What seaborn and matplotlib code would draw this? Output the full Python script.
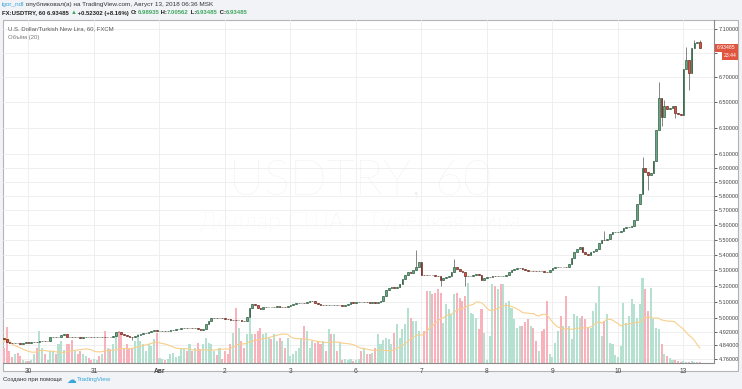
import numpy as np
import pandas as pd
import matplotlib
matplotlib.use("Agg")
import matplotlib.pyplot as plt
import seaborn as sns
from matplotlib.patches import Rectangle
from matplotlib.lines import Line2D

# USDTRY, 60 min bars (FXCM), Jul 27 14:00 .. Aug 13 06:00
first_open = 4.890
closes = [
    # Jul 27 (tail) + Jul 30
    4.882, 4.878, 4.860, 4.853, 4.850, 4.855, 4.852, 4.848, 4.852, 4.856,
    4.855, 4.858, 4.860, 4.857, 4.862, 4.865, 4.863, 4.866, 4.885, 4.888,
    4.886, 4.890, 4.900, 4.905, 4.890, 4.888, 4.886, 4.889, 4.887, 4.884,
    4.886, 4.889, 4.887, 4.885,
    # Jul 31
    4.886, 4.888, 4.887, 4.889, 4.888, 4.890, 4.889, 4.891, 4.920, 4.915,
    4.908, 4.902, 4.896, 4.890, 4.885, 4.895, 4.900, 4.905, 4.910, 4.912,
    4.918, 4.925, 4.930, 4.922,
    # Aug 1
    4.924, 4.926, 4.922, 4.925, 4.928, 4.930, 4.934, 4.938, 4.940, 4.942,
    4.941, 4.943, 4.940, 4.942, 4.938, 4.932, 4.935, 4.965, 4.985, 5.000,
    5.003, 5.002, 5.004, 5.001,
    # Aug 2
    4.998, 4.994, 4.990, 4.992, 4.988, 4.990, 4.986, 4.982, 5.010, 5.060,
    5.085, 5.078, 5.062, 5.058, 5.066, 5.068, 5.070, 5.066, 5.069, 5.072,
    5.068, 5.070, 5.066, 5.072,
    # Aug 3
    5.078, 5.085, 5.092, 5.094, 5.096, 5.095, 5.100, 5.105, 5.108, 5.095,
    5.085, 5.082, 5.084, 5.080, 5.083, 5.078, 5.081, 5.079, 5.082, 5.076,
    5.080, 5.090, 5.098, 5.096,
    # Aug 6
    5.100, 5.102, 5.098, 5.100, 5.097, 5.095, 5.099, 5.096, 5.100, 5.105,
    5.135, 5.175, 5.185, 5.192, 5.184, 5.190, 5.212, 5.245, 5.270, 5.290,
    5.285, 5.300, 5.318, 5.350,
    # Aug 7
    5.272, 5.270, 5.268, 5.272, 5.270, 5.266, 5.262, 5.240, 5.250, 5.255,
    5.262, 5.290, 5.318, 5.305, 5.295, 5.290, 5.260, 5.262, 5.265, 5.270,
    5.278, 5.272, 5.240, 5.250,
    # Aug 8
    5.255, 5.258, 5.262, 5.260, 5.264, 5.262, 5.266, 5.270, 5.290, 5.302,
    5.306, 5.312, 5.315, 5.310, 5.300, 5.296, 5.298, 5.295, 5.292, 5.296,
    5.294, 5.290, 5.288, 5.300,
    # Aug 9
    5.315, 5.318, 5.320, 5.318, 5.322, 5.320, 5.340, 5.380, 5.415, 5.440,
    5.452, 5.418, 5.405, 5.400, 5.415, 5.425, 5.438, 5.475, 5.500, 5.498,
    5.502, 5.540, 5.548, 5.550,
    # Aug 10
    5.552, 5.555, 5.580, 5.585, 5.588, 5.590, 5.630, 5.740, 5.810, 6.000,
    5.970, 5.950, 5.962, 6.050, 6.285, 6.530, 6.385, 6.468, 6.445, 6.452,
    6.468, 6.412, 6.405, 6.400,
    # Aug 13
    6.766, 6.840, 6.733, 6.935, 6.980, 6.989, 6.935,
]
# bars whose wicks stick out clearly
wick_high = {152: 5.43, 166: 5.37, 221: 5.56, 235: 6.08, 241: 6.66, 243: 6.515,
             251: 6.95, 254: 7.006, 256: 7.006}
wick_low = {48: 4.872, 161: 5.20, 170: 5.20, 237: 5.84, 242: 6.31, 247: 6.377,
            252: 6.59}

volumes = [
    26, 15, 36, 12, 6, 9, 10, 7, 3, 2, 2, 3, 9, 15, 32, 15, 9, 3, 12, 12,
    9, 19, 22, 13, 19, 19, 23, 12, 9, 12, 9, 7, 5, 3, 4, 3, 7, 9, 32, 15,
    14, 19, 30, 32, 29, 15, 19, 14, 15, 22, 29, 22, 19, 12, 19, 17, 24, 30, 5, 4,
    3, 4, 9, 10, 6, 7, 15, 15, 12, 19, 12, 15, 20, 14, 19, 25, 20, 19, 12, 8,
    15, 4, 12, 9, 19, 30, 55, 35, 22, 15, 29, 45, 29, 29, 32, 35, 29, 30, 25, 24,
    29, 22, 25, 22, 15, 25, 7, 9, 12, 15, 25, 37, 32, 15, 22, 20, 22, 19, 22, 12,
    34, 29, 29, 12, 20, 3, 4, 3, 4, 2, 3, 4, 12, 14, 9, 9, 10, 15, 29, 19,
    23, 25, 24, 19, 30, 39, 25, 34, 39, 55, 45, 42, 42, 32, 1, 32, 72, 72, 69, 70,
    74, 70, 40, 59, 54, 49, 69, 70, 65, 62, 67, 80, 50, 49, 45, 34, 54, 30, 3, 27,
    79, 77, 74, 79, 79, 60, 62, 55, 44, 35, 37, 37, 41, 44, 37, 35, 22, 12, 32, 34,
    62, 9, 6, 20, 32, 47, 37, 67, 37, 24, 49, 47, 45, 47, 44, 35, 35, 52, 60, 77,
    27, 42, 49, 20, 19, 8, 6, 17, 60, 40, 47, 64, 59, 45, 59, 85, 74, 52, 75, 44,
    35, 34, 19, 9, 7, 5, 3, 3, 2, 1, 2, 1, 1, 2, 1, 1, 1,
]

price_ticks = [4.76, 4.84, 4.92, 5.0, 5.1, 5.2, 5.3, 5.4, 5.5, 5.6, 5.7, 5.8,
               5.9, 6.0, 6.1, 6.3, 6.5, 6.7, 6.9, 7.1]
date_idx = [10, 34, 58, 82, 106, 130, 154, 178, 202, 226, 250]
date_labels = ["30", "31", "Авг", "2", "3", "6", "7", "8", "9", "10", "13"]

W, H = 742, 389
sns.set_style("white")
plt.rcParams["font.family"] = ["Liberation Sans", "DejaVu Sans"]

df = pd.DataFrame({"idx": np.arange(len(closes)), "close": closes, "vol": volumes})
df["open"] = [first_open] + closes[:-1]
df["high"] = [wick_high.get(i, max(o, c)) for i, (o, c) in enumerate(zip(df["open"], df["close"]))]
df["low"] = [wick_low.get(i, min(o, c)) for i, (o, c) in enumerate(zip(df["open"], df["close"]))]
df["dir"] = np.where(df["close"] >= df["open"], "up", "down")
df["ma"] = df["vol"].rolling(20, min_periods=1).mean()


def fx(x):
    return x / W


def fy(y):
    return 1 - y / H


fig = plt.figure(figsize=(W / 100, H / 100), dpi=100, facecolor="#f1f3f6")
fig.patches.append(Rectangle((fx(3), fy(371)), fx(738) - fx(3), fy(20) - fy(371),
                             transform=fig.transFigure, facecolor="white",
                             edgecolor="#b4b4b4", lw=0.8, zorder=0))

ax = fig.add_axes([fx(3), fy(363), fx(714) - fx(3), fy(20) - fy(363)])
axv = ax.twinx()
ax.set_zorder(3)
axv.set_zorder(2)
ax.patch.set_visible(False)
axv.patch.set_visible(False)

x0, x1 = 0.66, 261.2
ymin, ymax = 4.736, 7.178

# volume pane
sns.barplot(data=df, x="idx", y="vol", hue="dir", palette={"up": "#b6e0d0", "down": "#f7b2bb"},
            native_scale=True, width=0.75, saturation=1, dodge=False, legend=False,
            errorbar=None, linewidth=0, ax=axv)
sns.lineplot(data=df, x="idx", y="ma", color="#f8cf8c", linewidth=0.8, ax=axv)
axv.set_ylim(0, 343)

# grid (drawn in the volume axes so it stays behind the bars)
for p in price_ticks:
    axv.add_line(Line2D([0, 1], [p, p], transform=ax.get_yaxis_transform(),
                        color="#ececec", lw=0.6, zorder=0))
for d in date_idx:
    axv.axvline(d, color="#ececec", lw=0.6, zorder=0)

# candles
up = df["dir"] == "up"
ax.vlines(df["idx"], df["low"], df["high"], color="#737375", lw=0.6, zorder=2)
ax.bar(df["idx"][up], df["close"][up] - df["open"][up], bottom=df["open"][up], width=0.62,
       color="#6ba583", edgecolor="#225437", linewidth=0.45, zorder=3)
ax.bar(df["idx"][~up], df["open"][~up] - df["close"][~up], bottom=df["close"][~up], width=0.62,
       color="#d75442", edgecolor="#5b1a13", linewidth=0.45, zorder=3)

ax.set_yscale("log")
ax.set_ylim(ymin, ymax)
ax.set_xlim(x0, x1)
axv.set_xlim(x0, x1)
ax.yaxis.set_minor_locator(matplotlib.ticker.NullLocator())
ax.yaxis.tick_right()
ax.set_yticks(price_ticks)
# the 6.9 label sits under the last-price tag in the original
ax.set_yticklabels(["" if p == 6.9 else f"{p:.5f}" for p in price_ticks])
ax.set_xticks(date_idx)
ax.set_xticklabels(date_labels)
ax.get_xticklabels()[2].set_fontweight("bold")
ax.tick_params(axis="y", labelsize=4.0, colors="#444444", length=2, width=0.6, pad=1.2)
ax.tick_params(axis="x", labelsize=4.8, colors="#444444", length=2, width=0.6, pad=1.5)
ax.set_xlabel("")
ax.set_ylabel("")
axv.set_ylabel("")
axv.set_yticks([])
for s in ["top", "left"]:
    ax.spines[s].set_visible(False)
for s in ["right", "bottom"]:
    ax.spines[s].set_color("#8c8c8c")
    ax.spines[s].set_linewidth(0.8)
for s in axv.spines.values():
    s.set_visible(False)

# watermark
fig.text(fx(360), fy(182), "USDTRY, 60", fontsize=35, color="#f0f0f0", ha="center",
         va="center", family=["Lato", "DejaVu Sans"], weight="light", zorder=1)
fig.text(fx(360), fy(222), "Доллар США / Турецкая лира", fontsize=17, color="#f0f0f0",
         ha="center", va="center", family=["Lato", "DejaVu Sans"], weight="light", zorder=1)

# legend texts inside chart
fig.text(fx(8), fy(29), "U.S. Dollar/Turkish New Lira, 60, FXCM", fontsize=4.3, color="#555555",
         va="center")
fig.text(fx(8), fy(37.5), "Объём (20)", fontsize=4.3, color="#777777", va="center")

# last price tag
tag = "#e0553f"
fig.patches.append(Rectangle((fx(715), fy(51.5)), fx(738) - fx(715), fy(44) - fy(51.5),
                             transform=fig.transFigure, facecolor=tag, lw=0, zorder=5))
fig.patches.append(Rectangle((fx(722), fy(59.5)), fx(738) - fx(722), fy(51.5) - fy(59.5),
                             transform=fig.transFigure, facecolor=tag, lw=0, zorder=5))
fig.text(fx(726.5), fy(47.6), "6.93485", fontsize=3.7, color="white", ha="center", va="center", zorder=6)
fig.text(fx(730), fy(55.8), "23:44", fontsize=3.7, color="white", ha="center", va="center", zorder=6)

# header and footer
renderer = fig.canvas.get_renderer()


def seq_text(x, y, pieces, size, weight="normal"):
    for s, col in pieces:
        t = fig.text(fx(x), fy(y), s, fontsize=size, color=col, weight=weight, va="center")
        x += t.get_window_extent(renderer=renderer).width
    return x


seq_text(2, 4.5, [("igor_ndl", "#3ba6d8"),
                  (" опубликовал(а) на TradingView.com, Август 13, 2018 06:36 MSK", "#333333")], 4.6)
green = "#3fa65f"
seq_text(2, 13, [("FX:USDTRY, 60 6.93485 ", "#222222"), ("▲", green), (" +0.52302 (+8.16%) ", "#222222"),
                 ("O:", "#222222"), ("6.98935", green), (" H:", "#222222"), ("7.00562", green),
                 (" L:", "#222222"), ("6.93485", green), (" C:", "#222222"), ("6.93485", green)],
         4.3, weight="bold")
xe = seq_text(3, 379.5, [("Создано при помощи ", "#333333")], 4.3)
fig.text(fx(xe + 3), fy(379.5), "☁", fontsize=7, color="#3ba6d8", va="center",
         family=["DejaVu Sans"])
fig.text(fx(xe + 13), fy(379.5), "TradingView", fontsize=4.5, color="#3ba6d8", va="center")

fig.savefig("out.png", dpi=100, facecolor=fig.get_facecolor())
